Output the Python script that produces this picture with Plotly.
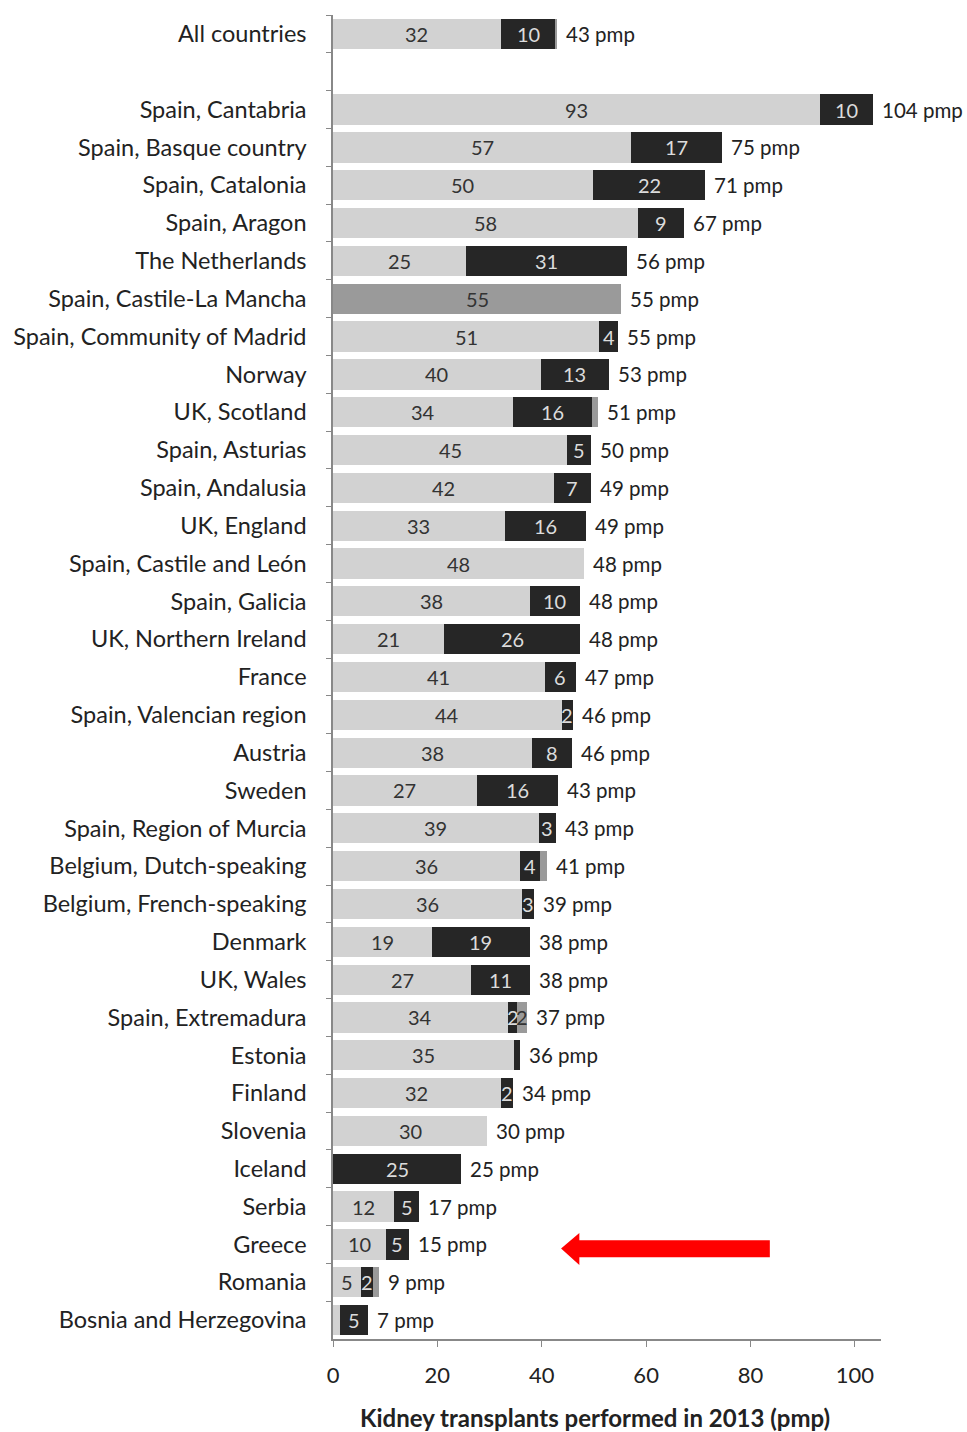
import plotly.graph_objects as go

categories = ["All countries", " ", "Spain, Cantabria", "Spain, Basque country", "Spain, Catalonia",
              "Spain, Aragon", "The Netherlands", "Spain, Castile-La Mancha", "Spain, Community of Madrid",
              "Norway", "UK, Scotland", "Spain, Asturias", "Spain, Andalusia", "UK, England",
              "Spain, Castile and León", "Spain, Galicia", "UK, Northern Ireland", "France",
              "Spain, Valencian region", "Austria", "Sweden", "Spain, Region of Murcia",
              "Belgium, Dutch-speaking", "Belgium, French-speaking", "Denmark", "UK, Wales",
              "Spain, Extremadura", "Estonia", "Finland", "Slovenia", "Iceland", "Serbia", "Greece",
              "Romania", "Bosnia and Herzegovina"]

deceased = [32.1, None, 93.4, 57.1, 49.8, 58.5, 25.4, 0, 51.0, 39.8, 34.4, 44.9, 42.3, 32.9,
            48.1, 37.7, 21.3, 40.6, 43.8, 38.1, 27.5, 39.4, 35.8, 36.2, 19.0, 26.5,
            33.5, 34.6, 32.1, 29.6, 0, 11.7, 10.1, 5.4, 1.4]
living = [10.6, None, 10.0, 17.5, 21.5, 8.8, 30.9, 0, 3.6, 13.1, 15.3, 4.5, 7.1, 15.6,
          0, 9.6, 26.0, 5.9, 2.2, 7.7, 15.6, 3.3, 3.8, 2.3, 18.7, 11.2,
          1.8, 1.2, 2.3, 0, 24.6, 4.8, 4.5, 2.2, 5.3]
unspecified = [0.3, None, 0, 0, 0, 0, 0, 55.2, 0, 0, 1.0, 0, 0, 0,
               0, 0, 0, 0, 0, 0, 0, 0, 1.4, 0, 0, 0,
               1.8, 0, 0, 0, 0, 0, 0, 1.2, 0]

deceased_text = ["32", "", "93", "57", "50", "58", "25", "", "51", "40", "34", "45", "42", "33",
                 "48", "38", "21", "41", "44", "38", "27", "39", "36", "36", "19", "27",
                 "34", "35", "32", "30", "", "12", "10", "5", ""]
living_text = ["10", "", "10", "17", "22", "9", "31", "", "4", "13", "16", "5", "7", "16",
               "", "10", "26", "6", "2", "8", "16", "3", "4", "3", "19", "11",
               "2", "", "2", "", "25", "5", "5", "2", "5"]
unspecified_text = ["", "", "", "", "", "", "", "55", "", "", "", "", "", "",
                    "", "", "", "", "", "", "", "", "", "", "", "",
                    "2", "", "", "", "", "", "", "", ""]
totals_text = ["43 pmp", "", "104 pmp", "75 pmp", "71 pmp", "67 pmp", "56 pmp", "55 pmp", "55 pmp",
               "53 pmp", "51 pmp", "50 pmp", "49 pmp", "49 pmp", "48 pmp", "48 pmp", "48 pmp",
               "47 pmp", "46 pmp", "46 pmp", "43 pmp", "43 pmp", "41 pmp", "39 pmp", "38 pmp",
               "38 pmp", "37 pmp", "36 pmp", "34 pmp", "30 pmp", "25 pmp", "17 pmp", "15 pmp",
               "9 pmp", "7 pmp"]

x_ticks = [0, 20, 40, 60, 80, 100]
x_title = "Kidney transplants performed in 2013 (pmp)"

FONT = "Lato, 'Liberation Sans', sans-serif"
LIGHT = "#d2d2d2"
DARK = "#262626"
MED = "#9a9a9a"

series = [(deceased, deceased_text, LIGHT, "#333333"),
          (living, living_text, DARK, "#dcdcdc"),
          (unspecified, unspecified_text, MED, "#333333")]

fig = go.Figure()
for vals, txt, col, tcol in series:
    fig.add_trace(go.Bar(
        y=categories, x=vals, orientation="h", marker=dict(color=col, line=dict(width=0)),
        hoverinfo="skip", showlegend=False,
    ))

# segment labels centred in each segment (not shrunk, as in the original)
for i, cat in enumerate(categories):
    start = 0.0
    for vals, txt, col, tcol in series:
        v = vals[i] or 0
        if txt[i]:
            fig.add_annotation(x=start + v / 2, y=cat, text=txt[i], xref="x", yref="y",
                               showarrow=False, xanchor="center", yanchor="middle",
                               font=dict(family=FONT, size=20, color=tcol))
        start += v

# total labels to the right of the bars
for cat, d, l, u, t in zip(categories, deceased, living, unspecified, totals_text):
    if not t:
        continue
    end = (d or 0) + (l or 0) + (u or 0)
    fig.add_annotation(x=end, y=cat, text=t, xref="x", yref="y", xanchor="left", yanchor="middle",
                       xshift=7, showarrow=False, font=dict(family=FONT, size=20.5, color="#222222"))

# x-axis title (slightly left of the plot centre, as in the original)
fig.add_annotation(x=0.5, y=0, xref="paper", yref="paper", xanchor="center", yanchor="middle",
                   xshift=-12, yshift=-78, showarrow=False, text=f"<b>{x_title}</b>",
                   font=dict(family=FONT, size=24, color="#222222"))

# red arrow pointing at Greece (decoration), y in paper units
y_c = 0.0683
fig.add_shape(type="path", xref="x", yref="paper",
              path=(f"M 43.7 {y_c} L 47.2 {y_c + 0.0118} L 47.2 {y_c + 0.0062} "
                    f"L 83.7 {y_c + 0.0062} L 83.7 {y_c - 0.0066} L 47.2 {y_c - 0.0066} "
                    f"L 47.2 {y_c - 0.0124} Z"),
              fillcolor="#ff0000", line=dict(width=0))

fig.update_layout(
    width=967, height=1432, barmode="stack", bargap=0.2,
    margin=dict(l=333, r=86, t=15, b=93),
    plot_bgcolor="white", paper_bgcolor="white",
    font=dict(family=FONT, color="#222222"),
    xaxis=dict(range=[0, 105], tickvals=x_ticks, ticks="outside", ticklen=6, tickcolor="#888888",
               showline=True, linecolor="#888888", linewidth=1.5, showgrid=False, zeroline=False,
               tickfont=dict(family=FONT, size=22, color="#222222"), ticklabelstandoff=10),
    yaxis=dict(type="category", categoryorder="array", categoryarray=categories,
               autorange="reversed", tickson="boundaries", ticks="outside", ticklen=5,
               tickcolor="#888888", showline=True, linecolor="#888888", linewidth=1.5,
               showgrid=False, zeroline=False, ticklabelstandoff=20,
               tickfont=dict(family=FONT, size=23.5, color="#222222")),
)

fig.write_html("out.html", config={"displayModeBar": False},
               post_script="document.body.style.margin='0px';document.body.style.overflow='hidden';")
